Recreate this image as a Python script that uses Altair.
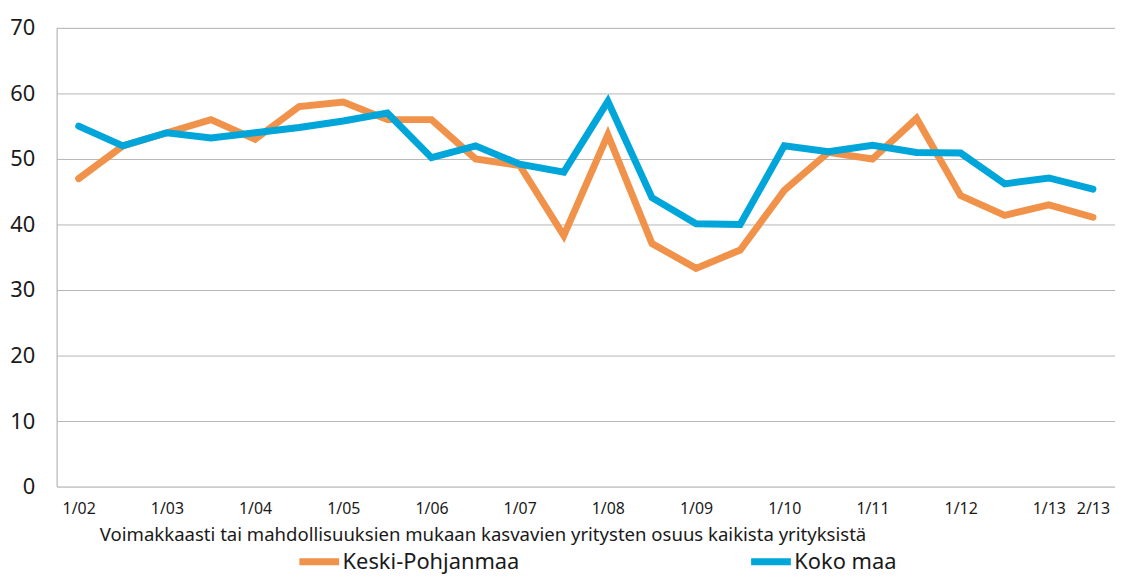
import altair as alt
import pandas as pd

periods = ["1/02", "2/02", "1/03", "2/03", "1/04", "2/04", "1/05", "2/05",
           "1/06", "2/06", "1/07", "2/07", "1/08", "2/08", "1/09", "2/09",
           "1/10", "2/10", "1/11", "2/11", "1/12", "2/12", "1/13", "2/13"]
shown_labels = ["1/02", "1/03", "1/04", "1/05", "1/06", "1/07", "1/08",
                "1/09", "1/10", "1/11", "1/12", "1/13", "2/13"]
keski = [47, 52, 54, 56, 53, 58, 58.7, 56, 56, 50, 49, 38.3, 53.7, 37.1,
         33.3, 36.1, 45.2, 51, 50, 56.2, 44.4, 41.4, 43, 41.1]
koko = [55, 52, 54, 53.2, 54, 54.8, 55.8, 57, 50.2, 52, 49.2, 48, 58.8, 44.1,
        40.1, 40, 52, 51.1, 52.1, 51, 50.9, 46.2, 47.1, 45.4]
series = ["Keski-Pohjanmaa", "Koko maa"]
colors = ["#F1924B", "#00A6DA"]
x_title = "Voimakkaasti tai mahdollisuuksien mukaan kasvavien yritysten osuus kaikista yrityksistä"

rows = []
for i, p in enumerate(periods):
    rows.append({"period": p, "order": i, "series": series[0], "value": keski[i]})
    rows.append({"period": p, "order": i, "series": series[1], "value": koko[i]})
df = pd.DataFrame(rows)

FONT = "Noto Sans"

chart = alt.Chart(df).mark_line(strokeWidth=7, strokeCap="round", strokeJoin="miter").encode(
    x=alt.X("period:N", sort=periods, scale=alt.Scale(paddingOuter=0.5, paddingInner=0, type="point"),
            axis=alt.Axis(values=shown_labels, labelAngle=0, domain=False, ticks=False, grid=False,
                          labelFontSize=16, labelPadding=14, labelColor="#1a1a1a", labelFont=FONT,
                          title=x_title, titleFont=FONT, titleFontSize=18.7, titleFontWeight="normal",
                          titleColor="#1a1a1a", titleAlign="left", titleAnchor="start",
                          titleX=43, titleY=54, titleBaseline="alphabetic")),
    y=alt.Y("value:Q", scale=alt.Scale(domain=[0, 70], nice=False),
            axis=alt.Axis(values=[0, 10, 20, 30, 40, 50, 60, 70], title=None, ticks=False,
                          domain=True, domainColor="#b5b5b5", gridColor="#b5b5b5",
                          labelFontSize=22, labelPadding=22, labelColor="#1a1a1a", labelFont=FONT)),
    color=alt.Color("series:N", sort=series, scale=alt.Scale(domain=series, range=colors),
                    legend=alt.Legend(title=None, orient="none", legendX=241, legendY=514,
                                      direction="horizontal", columns=2, columnPadding=218,
                                      symbolType="stroke", symbolSize=1600, symbolStrokeWidth=7,
                                      labelOffset=0, labelFontSize=22, labelFont=FONT,
                                      labelColor="#1a1a1a", labelLimit=400)),
    order=alt.Order("order:Q"),
).properties(
    width=1066, height=462,
    autosize=alt.AutoSizeParams(type="none"),
    padding={"left": 49, "top": 18, "right": 0, "bottom": 87},
).configure_view(stroke=None).configure(background="white")

chart.save("out.html", embed_options={"renderer": "svg", "actions": False})
